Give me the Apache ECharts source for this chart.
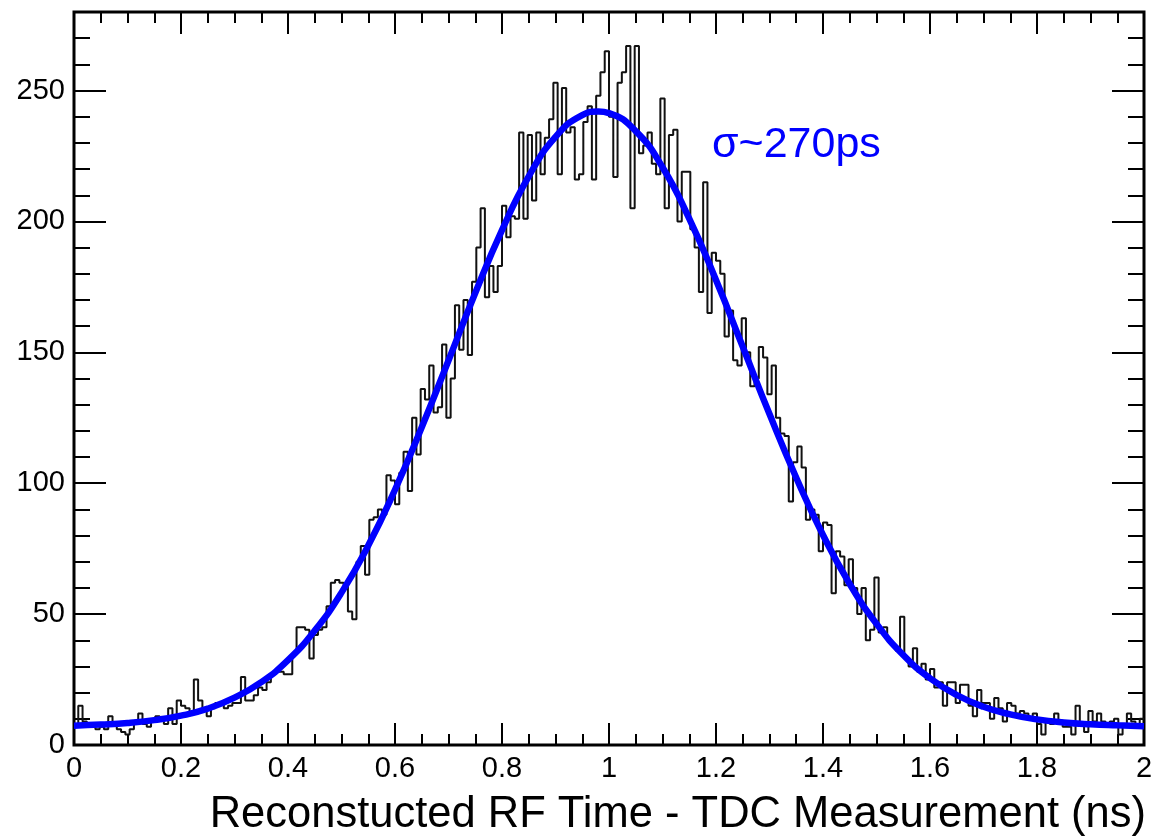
<!DOCTYPE html>
<html>
<head>
<meta charset="utf-8">
<script src="https://cdn.jsdelivr.net/npm/echarts@6/dist/echarts.min.js"></script>
<style>
  html, body { margin: 0; padding: 0; background: #fff; }
  #chart { width: 1157px; height: 836px; }
</style>
</head>
<body>
<div id="chart"></div>
<script>
// ---- Data ----
const X_MIN = 0;
const X_MAX = 2;
const BIN_WIDTH = 0.008;   // 250 bins over 0..2 ns
const Y_MAX = 280;

// histogram counts, one per bin (left to right)
const counts = [
  8,15,9,8,7,6,7,6,11,8,
  6,5,4,6,9,12,8,7,9,11,
  10,8,14,8,17,15,14,12,25,17,
  13,11,14,16,16,14,15,16,16,26,
  17,17,19,22,21,24,27,28,28,27,
  27,35,45,45,44,33,42,44,45,53,
  62,63,62,61,51,48,70,76,65,86,
  87,90,88,103,101,92,104,112,97,125,
  111,136,132,145,127,129,153,125,140,168,
  151,170,149,177,190,205,171,183,173,183,
  206,194,202,201,234,201,233,208,234,218,
  232,239,253,218,251,234,236,216,218,238,
  244,216,248,257,265,240,217,253,257,267,
  205,267,226,229,234,222,218,247,205,233,
  235,200,219,219,197,190,173,215,165,188,
  185,180,156,166,147,145,163,150,137,140,
  152,148,134,145,125,119,118,93,108,114,
  106,86,90,88,74,85,84,58,74,72,
  61,71,60,50,60,40,44,64,43,45,
  40,38,36,49,33,30,37,28,31,25,
  29,22,24,15,24,24,16,23,23,15,
  11,21,16,16,10,18,14,9,16,15,
  12,13,12,10,12,8,4,9,8,12,
  9,7,7,4,15,8,5,13,9,12,
  9,8,9,10,4,8,12,9,8,10
];

// fitted curve, read at sample points
const fitX = [0,0.05,0.1,0.15,0.2,0.25,0.3,0.35,0.4,0.45,0.5,0.55,0.6,0.65,0.7,0.75,0.8,0.85,0.9,0.95,0.98,
              1.0,1.05,1.1,1.15,1.2,1.25,1.3,1.35,1.4,1.45,1.5,1.55,1.6,1.65,1.7,1.75,1.8,1.85,1.9,1.95,2.0];
const fitY = [7.4,7.8,8.4,9.5,11.2,13.9,18.1,24.0,32.4,43.7,58.2,76.2,97.5,121.4,146.9,172.7,196.7,217.2,232.3,240.6,242.0,
              241.4,234.5,220.7,201.1,177.6,152.1,126.4,102.1,80.2,61.5,46.3,34.4,25.5,19.1,14.6,11.7,9.8,8.6,7.9,7.5,7.2];

const xTicks = { interval: 0.2, minorSplit: 4 };
const yTicks = { major: 50, minor: 10 };

const xTitle = 'Reconstucted RF Time - TDC Measurement (ns)';
const fitLabel = 'σ~270ps';

// ---- Build series data ----
const histPoints = counts.map((c, i) => [X_MIN + i * BIN_WIDTH, c]);
histPoints.push([X_MIN + counts.length * BIN_WIDTH, counts[counts.length - 1]]);
const fitPoints = fitX.map((x, i) => [x, fitY[i]]);

const FONT = '"Liberation Sans", Arial, Helvetica, sans-serif';
const tickStyle = { color: '#000', width: 2 };

function xAxisCfg(pos, showLabel) {
  return {
    type: 'value', position: pos, min: X_MIN, max: X_MAX, interval: xTicks.interval,
    axisLine: { show: false, onZero: false }, splitLine: { show: false },
    axisTick: { show: true, inside: true, length: 22, lineStyle: tickStyle },
    minorTick: { show: true, splitNumber: xTicks.minorSplit, length: 11, lineStyle: tickStyle },
    axisLabel: { show: showLabel, fontSize: 29, color: '#000', fontFamily: FONT, margin: 9 }
  };
}
function yAxisCfg(pos, interval, len, showLabel) {
  return {
    type: 'value', position: pos, min: 0, max: Y_MAX, interval: interval,
    axisLine: { show: false, onZero: false }, splitLine: { show: false },
    axisTick: { show: true, inside: true, length: len, lineStyle: tickStyle },
    axisLabel: {
      show: showLabel, fontSize: 29, color: '#000', fontFamily: FONT, margin: 9,
      formatter: v => (v % yTicks.major === 0 ? String(v) : '')
    }
  };
}

const chart = echarts.init(document.getElementById('chart'), null, { renderer: 'canvas' });
chart.setOption({
  animation: false,
  backgroundColor: '#fff',
  grid: { left: 74, right: 13, top: 12, bottom: 91, show: true, borderColor: '#000', borderWidth: 3, backgroundColor: 'transparent' },
  xAxis: [ xAxisCfg('bottom', true), xAxisCfg('top', false) ],
  yAxis: [
    yAxisCfg('left', yTicks.major, 32, true),
    yAxisCfg('left', yTicks.minor, 16, false),
    yAxisCfg('right', yTicks.major, 32, false),
    yAxisCfg('right', yTicks.minor, 16, false)
  ],
  series: [
    {
      type: 'line', name: 'hist', xAxisIndex: 0, yAxisIndex: 0,
      data: histPoints, step: 'end', symbol: 'none',
      lineStyle: { color: '#111', width: 2 }, z: 3
    },
    {
      type: 'line', name: 'fit', xAxisIndex: 0, yAxisIndex: 0,
      data: fitPoints, smooth: true, symbol: 'none',
      lineStyle: { color: '#0000ff', width: 6.5 }, z: 4
    }
  ],
  graphic: [
    { type: 'text', right: 11, top: 793, style: { text: xTitle, font: '43.5px ' + FONT, fill: '#000' } },
    { type: 'text', left: 712, top: 124, style: { text: fitLabel, font: '43px ' + FONT, fill: '#0000ff' } }
  ]
});
</script>
</body>
</html>
